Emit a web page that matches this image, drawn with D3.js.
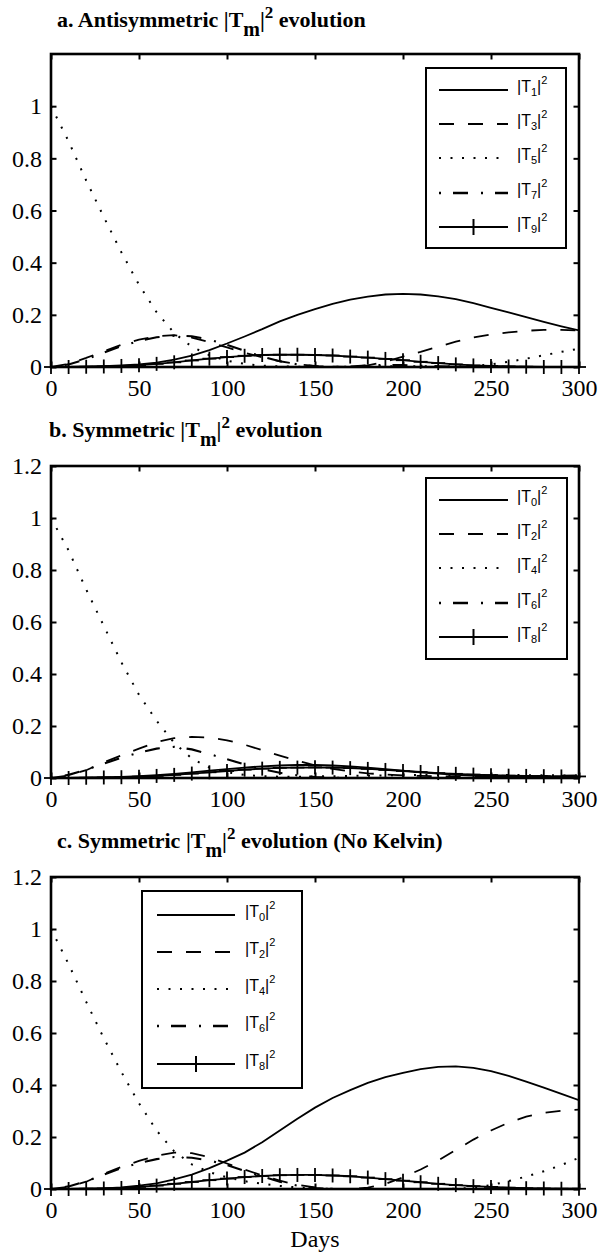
<!DOCTYPE html>
<html>
<head>
<meta charset="utf-8">
<script src="https://cdn.jsdelivr.net/npm/d3@7"></script>
<style>
  body { margin: 0; background: #fff; }
  svg { display: block; }
</style>
</head>
<body>
<svg id="fig" width="604" height="1258"></svg>
<script>
// Time axis (days) shared by every panel
const days = [0, 10, 20, 30, 40, 50, 60, 70, 80, 90, 100, 110, 120, 130, 140, 150,
              160, 170, 180, 190, 200, 210, 220, 230, 240, 250, 260, 270, 280, 290, 300];

const xTicks = [0, 50, 100, 150, 200, 250, 300];
const yTicksA = [0, 0.2, 0.4, 0.6, 0.8, 1];
const yTicksBC = [0, 0.2, 0.4, 0.6, 0.8, 1, 1.2];

// a. Antisymmetric modes
const aT1 = [0, 0.000, 0.001, 0.003, 0.006, 0.010, 0.017, 0.028, 0.044, 0.065, 0.090, 0.117, 0.145, 0.175, 0.200, 0.222,
             0.242, 0.258, 0.270, 0.278, 0.280, 0.278, 0.271, 0.260, 0.245, 0.227, 0.209, 0.191, 0.173, 0.156, 0.140];
const aT3 = [0, 0.012, 0.035, 0.060, 0.085, 0.105, 0.118, 0.122, 0.113, 0.095, 0.075, 0.055, 0.037, 0.022, 0.011, 0.004,
             0.001, 0.000, 0.006, 0.020, 0.040, 0.058, 0.078, 0.097, 0.113, 0.125, 0.133, 0.139, 0.142, 0.142, 0.140];
const aT5 = [1.000, 0.865, 0.715, 0.575, 0.440, 0.315, 0.210, 0.130, 0.078, 0.045, 0.024, 0.012, 0.005, 0.002, 0.001, 0.000,
             0.000, 0.001, 0.002, 0.003, 0.003, 0.003, 0.002, 0.002, 0.004, 0.010, 0.020, 0.032, 0.045, 0.058, 0.070];
const aT7 = [0, 0.010, 0.030, 0.055, 0.080, 0.100, 0.114, 0.120, 0.118, 0.105, 0.085, 0.062, 0.040, 0.022, 0.010, 0.003,
             0.000, 0.002, 0.006, 0.008, 0.007, 0.005, 0.003, 0.001, 0.000, 0.000, 0.000, 0.000, 0.000, 0.000, 0.000];
const aT9 = [0, 0.000, 0.001, 0.002, 0.004, 0.007, 0.012, 0.018, 0.025, 0.032, 0.038, 0.043, 0.046, 0.047, 0.047, 0.046,
             0.044, 0.040, 0.036, 0.031, 0.026, 0.020, 0.015, 0.010, 0.006, 0.004, 0.002, 0.001, 0.000, 0.000, 0.000];

// b. Symmetric modes
const bT0 = [0, 0.000, 0.001, 0.002, 0.004, 0.007, 0.011, 0.016, 0.022, 0.028, 0.034, 0.040, 0.045, 0.048, 0.050, 0.050,
             0.048, 0.045, 0.040, 0.034, 0.028, 0.022, 0.017, 0.012, 0.009, 0.006, 0.004, 0.003, 0.002, 0.001, 0.001];
const bT2 = [0, 0.010, 0.030, 0.060, 0.087, 0.113, 0.138, 0.153, 0.158, 0.156, 0.145, 0.128, 0.107, 0.086, 0.066, 0.049,
             0.035, 0.025, 0.018, 0.013, 0.010, 0.008, 0.007, 0.006, 0.006, 0.006, 0.006, 0.007, 0.008, 0.009, 0.010];
const bT4 = [1.000, 0.875, 0.725, 0.585, 0.445, 0.320, 0.220, 0.135, 0.075, 0.040, 0.022, 0.012, 0.007, 0.005, 0.005, 0.006,
             0.007, 0.008, 0.009, 0.010, 0.011, 0.012, 0.012, 0.012, 0.012, 0.012, 0.012, 0.011, 0.011, 0.010, 0.010];
const bT6 = [0, 0.012, 0.032, 0.055, 0.078, 0.098, 0.113, 0.120, 0.110, 0.092, 0.072, 0.052, 0.034, 0.020, 0.010, 0.004,
             0.001, 0.000, 0.000, 0.000, 0.000, 0.000, 0.000, 0.000, 0.000, 0.000, 0.000, 0.000, 0.000, 0.000, 0.000];
const bT8 = [0, 0.000, 0.001, 0.002, 0.003, 0.005, 0.008, 0.012, 0.017, 0.022, 0.027, 0.032, 0.036, 0.039, 0.040, 0.041,
             0.040, 0.038, 0.035, 0.031, 0.027, 0.023, 0.019, 0.016, 0.013, 0.011, 0.009, 0.008, 0.007, 0.006, 0.006];

// c. Symmetric modes without the Kelvin wave
const cT0 = [0, 0.000, 0.001, 0.002, 0.006, 0.013, 0.022, 0.037, 0.055, 0.080, 0.109, 0.140, 0.180, 0.225, 0.270, 0.313,
             0.350, 0.380, 0.408, 0.430, 0.447, 0.461, 0.470, 0.472, 0.466, 0.453, 0.435, 0.413, 0.390, 0.366, 0.342];
const cT2 = [0, 0.008, 0.028, 0.058, 0.085, 0.108, 0.128, 0.140, 0.138, 0.122, 0.098, 0.075, 0.052, 0.032, 0.016, 0.006,
             0.001, 0.000, 0.005, 0.020, 0.045, 0.075, 0.110, 0.150, 0.190, 0.225, 0.255, 0.278, 0.293, 0.301, 0.305];
const cT4 = [1.000, 0.865, 0.720, 0.580, 0.450, 0.330, 0.225, 0.145, 0.095, 0.065, 0.045, 0.030, 0.020, 0.012, 0.006, 0.002,
             0.000, 0.000, 0.000, 0.000, 0.000, 0.000, 0.000, 0.001, 0.005, 0.015, 0.030, 0.048, 0.068, 0.092, 0.120];
const cT6 = [0, 0.010, 0.030, 0.055, 0.080, 0.100, 0.115, 0.123, 0.120, 0.110, 0.092, 0.070, 0.048, 0.028, 0.013, 0.004,
             0.000, 0.000, 0.000, 0.000, 0.000, 0.000, 0.000, 0.000, 0.000, 0.000, 0.000, 0.000, 0.000, 0.000, 0.000];
const cT8 = [0, 0.000, 0.001, 0.002, 0.004, 0.008, 0.013, 0.020, 0.027, 0.034, 0.040, 0.046, 0.050, 0.053, 0.054, 0.054,
             0.052, 0.049, 0.044, 0.038, 0.032, 0.026, 0.020, 0.015, 0.011, 0.008, 0.005, 0.003, 0.002, 0.001, 0.001];

const styles = ["solid", "dash", "dot", "dashdot", "plus"];
const dashFor = { solid: null, dash: "15,14", dot: "2,9.5", dashdot: "2,12,15,13", plus: null };

const panels = [
  { label: "a. Antisymmetric |T", tail: " evolution", titleX: 57, titleY: 27, top: 54, bottom: 367,
    yTicks: yTicksA, modes: ["1", "3", "5", "7", "9"], series: [aT1, aT3, aT5, aT7, aT9],
    legend: { x0: 426, x1: 566, y0: 68, y1: 248, rows: [90, 124, 158, 193, 227], l0: 439, l1: 508, tx: 517 } },
  { label: "b. Symmetric |T", tail: " evolution", titleX: 49, titleY: 437, top: 466, bottom: 778,
    yTicks: yTicksBC, modes: ["0", "2", "4", "6", "8"], series: [bT0, bT2, bT4, bT6, bT8],
    legend: { x0: 426, x1: 567, y0: 478, y1: 659, rows: [500, 534, 568, 603, 637], l0: 439, l1: 508, tx: 517 } },
  { label: "c. Symmetric |T", tail: " evolution (No Kelvin)", titleX: 57, titleY: 848, top: 877, bottom: 1189,
    yTicks: yTicksBC, modes: ["0", "2", "4", "6", "8"], series: [cT0, cT2, cT4, cT6, cT8],
    legend: { x0: 142, x1: 302, y0: 891, y1: 1088, rows: [915, 952, 989, 1026, 1064], l0: 157, l1: 235, tx: 245 } }
];

const svg = d3.select("#fig");
const x = d3.scaleLinear().domain([0, 300]).range([51, 579]);
const serif = "'Liberation Serif', 'Times New Roman', serif";
const sans = "'Liberation Sans', Arial, sans-serif";

function drawCross(g, cx, cy, h) {
  g.append("line").attr("x1", cx - h).attr("x2", cx + h).attr("y1", cy).attr("y2", cy);
  g.append("line").attr("x1", cx).attr("x2", cx).attr("y1", cy - h).attr("y2", cy + h);
}

panels.forEach((p, pi) => {
  const y = d3.scaleLinear().domain([0, 1.2]).range([p.bottom, p.top]);
  const g = svg.append("g");

  // panel title with |T_m|^2
  const t = g.append("text").attr("x", p.titleX).attr("y", p.titleY)
    .attr("font-family", serif).attr("font-weight", "bold").attr("font-size", 22).attr("fill", "#000");
  t.append("tspan").text(p.label);
  t.append("tspan").attr("dy", 9).attr("font-size", 20).text("m");
  t.append("tspan").attr("dy", -9).text("|");
  t.append("tspan").attr("dy", -9).attr("font-size", 17).text("2");
  t.append("tspan").attr("dy", 9).text(p.tail);

  // curves
  const clipId = "clip" + pi;
  g.append("clipPath").attr("id", clipId).append("rect")
    .attr("x", x(0)).attr("y", p.top).attr("width", x(300) - x(0)).attr("height", p.bottom - p.top + 3);
  const line = d3.line().x((d, i) => x(days[i])).y(d => y(d));
  p.series.forEach((vals, si) => {
    const st = styles[si];
    g.append("path").datum(vals).attr("d", line).attr("clip-path", `url(#${clipId})`)
      .attr("fill", "none").attr("stroke", "#000")
      .attr("stroke-width", st === "dot" ? 2 : (st === "dashdot" ? 2.1 : 1.8))
      .attr("stroke-dasharray", dashFor[st]);
    if (st === "plus") {
      const mg = g.append("g").attr("stroke", "#000").attr("stroke-width", 1.8);
      vals.forEach((v, i) => drawCross(mg, x(days[i]), y(v), 7));
    }
  });

  // axes: ticks point inward on all four sides
  const tk = 5.5;
  g.append("g").attr("transform", `translate(0,${p.bottom})`)
    .call(d3.axisBottom(x).tickValues(xTicks).tickSizeInner(-tk).tickSizeOuter(0).tickPadding(12).tickFormat(d3.format("d")));
  g.append("g").attr("transform", `translate(0,${p.top})`)
    .call(d3.axisTop(x).tickValues(xTicks).tickSizeInner(-tk).tickSizeOuter(0).tickFormat(""));
  g.append("g").attr("transform", `translate(${x(0)},0)`)
    .call(d3.axisLeft(y).tickValues(p.yTicks).tickSizeInner(-tk).tickSizeOuter(0).tickPadding(9).tickFormat(d3.format("~g")));
  g.append("g").attr("transform", `translate(${x(300)},0)`)
    .call(d3.axisRight(y).tickValues(p.yTicks).tickSizeInner(-tk).tickSizeOuter(0).tickFormat(""));
  g.selectAll(".domain").remove();
  g.selectAll(".tick line").attr("stroke", "#000").attr("stroke-width", 2);
  g.selectAll(".tick text").attr("font-family", serif).attr("font-size", 24).attr("fill", "#000");
  g.append("rect").attr("x", x(0)).attr("y", p.top).attr("width", x(300) - x(0)).attr("height", p.bottom - p.top)
    .attr("fill", "none").attr("stroke", "#000").attr("stroke-width", 2.6);

  // legend
  const L = p.legend;
  const lg = g.append("g");
  lg.append("rect").attr("x", L.x0).attr("y", L.y0).attr("width", L.x1 - L.x0).attr("height", L.y1 - L.y0)
    .attr("fill", "#fff").attr("stroke", "#000").attr("stroke-width", 2);
  p.modes.forEach((m, si) => {
    const st = styles[si];
    const ry = L.rows[si];
    lg.append("line").attr("x1", L.l0).attr("x2", L.l1).attr("y1", ry).attr("y2", ry)
      .attr("stroke", "#000").attr("stroke-width", st === "dot" ? 2 : (st === "dashdot" ? 2.4 : 1.8))
      .attr("stroke-dasharray", dashFor[st]);
    if (st === "plus") {
      const mg = lg.append("g").attr("stroke", "#000").attr("stroke-width", 2);
      drawCross(mg, (L.l0 + L.l1) / 2, ry, 8);
    }
    const lt = lg.append("text").attr("x", L.tx).attr("y", ry + 2)
      .attr("font-family", sans).attr("font-size", 16).attr("fill", "#000");
    lt.append("tspan").text("|T");
    lt.append("tspan").attr("dy", 4).attr("font-size", 11).text(m);
    lt.append("tspan").attr("dy", -4).text("|");
    lt.append("tspan").attr("dy", -8).attr("font-size", 11).text("2");
  });
});

// shared x-axis label
svg.append("text").attr("x", x(150)).attr("y", 1247).attr("text-anchor", "middle")
  .attr("font-family", serif).attr("font-size", 24).attr("fill", "#000").text("Days");
</script>
</body>
</html>
